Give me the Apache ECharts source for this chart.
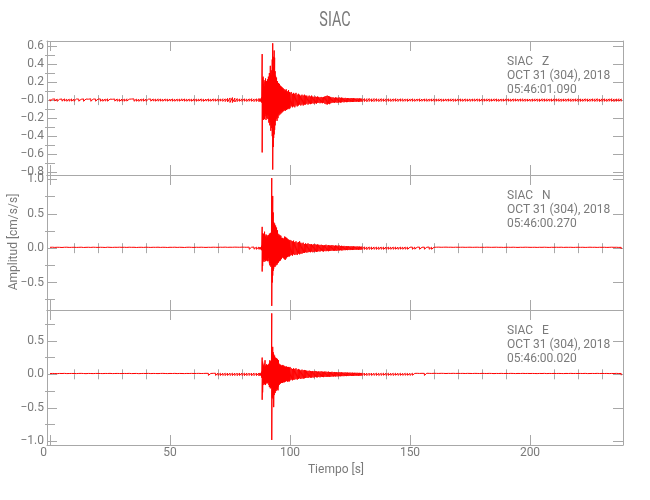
<!DOCTYPE html>
<html>
<head>
<meta charset="utf-8">
<script src="https://cdn.jsdelivr.net/npm/echarts@6/dist/echarts.min.js"></script>
<style>html,body{margin:0;padding:0;background:#fff;}#chart{width:650px;height:500px;}</style>
</head>
<body>
<div id="chart"></div>
<script>
// ---------- DATA ----------
const chartTitle = 'SIAC';
const xAxisTitle = 'Tiempo [s]';
const yAxisTitle = 'Amplitud [cm/s/s]';
const stationLabels = ['SIAC   Z', 'SIAC   N', 'SIAC   E'];
const dateLabel = 'OCT 31 (304), 2018';
const startTimes = ['05:46:01.090', '05:46:00.270', '05:46:00.020'];

const xRange = [-1.25, 238.75];
const xMajorTicks = [0, 50, 100, 150, 200];
const xMajorLabels = ['0', '50', '100', '150', '200'];
const xMinorTicks = [10, 20, 30, 40, 60, 70, 80, 90, 110, 120, 130, 140, 160, 170, 180, 190, 210, 220, 230];

const yRangeZ = [-0.83, 0.655];
const yRangeN = [-0.9, 1.065];
const yRangeE = [-1.055, 0.96];
const yMajorZ = [-0.8, -0.6, -0.4, -0.2, 0, 0.2, 0.4, 0.6];
const yLabelsZ = ['\u22120.8', '\u22120.6', '\u22120.4', '\u22120.2', '\u22120.0', '0.2', '0.4', '0.6'];
const yMinorZ = [-0.7, -0.5, -0.3, -0.1, 0.1, 0.3, 0.5];
const yMajorN = [-0.5, 0, 0.5, 1.0];
const yLabelsN = ['\u22120.5', '0.0', '0.5', '1.0'];
const yMinorN = [-0.75, -0.25, 0.25, 0.75];
const yMajorE = [-1.0, -0.5, 0, 0.5];
const yLabelsE = ['\u22121.0', '\u22120.5', '0.0', '0.5'];
const yMinorE = [-0.75, -0.25, 0.25, 0.75];

// time of each envelope sample [s]
const tiempo = [
0,1,2,3,4,5,6,7,8,9,
10,11,12,13,14,15,16,17,18,19,
20,21,22,23,24,25,26,27,28,29,
30,31,32,33,34,35,36,37,38,39,
40,41,42,43,44,45,46,47,48,49,
50,51,52,53,54,55,56,57,58,59,
60,61,62,63,64,65,66,67,68,69,
70,71,72,73,74,75,76,77,78,79,
80,81,82,83,84,85,86,87,87.5,88,
88.2,88.4,88.6,88.8,89,89.2,89.4,89.6,89.8,90,
90.2,90.4,90.6,90.8,91,91.2,91.4,91.6,91.8,92,
92.2,92.4,92.6,92.8,93,93.2,93.4,93.6,93.8,94,
94.2,94.4,94.6,94.8,95,95.2,95.4,95.6,95.8,96,
96.2,96.4,96.6,96.8,97,97.2,97.4,97.6,97.8,98,
98.2,98.4,98.6,98.8,99,99.2,99.4,99.6,99.8,100,
100.5,101,101.5,102,102.5,103,103.5,104,104.5,105,
105.5,106,106.5,107,107.5,108,108.5,109,109.5,110,
110.5,111,111.5,112,112.5,113,113.5,114,114.5,115,
115.5,116,116.5,117,117.5,118,118.5,119,119.5,120,
120.5,121,121.5,122,122.5,123,123.5,124,124.5,125,
125.5,126,126.5,127,127.5,128,128.5,129,129.5,130,
131,132,133,134,135,136,137,138,139,140,
141,142,143,144,145,146,147,148,149,150,
151,152,153,154,155,156,157,158,159,160,
161,162,163,164,165,166,167,168,169,170,
171,172,173,174,175,176,177,178,179,180,
181,182,183,184,185,186,187,188,189,190,
191,192,193,194,195,196,197,198,199,200,
201,202,203,204,205,206,207,208,209,210,
211,212,213,214,215,216,217,218,219,220,
221,222,223,224,225,226,227,228,229,230,
231,232,233,234,235,236,237,238];

// Z component: upper / lower envelope [cm/s/s]
const zMax = [
.012,.010,.013,.011,.009,.012,.014,.010,.011,.013,
.010,.012,.011,.009,.013,.012,.010,.014,.011,.012,
.011,.013,.010,.012,.014,.011,.009,.012,.013,.010,
.012,.011,.014,.010,.012,.013,.011,.009,.012,.014,
.011,.010,.012,.013,.011,.014,.012,.010,.013,.011,
.012,.013,.010,.012,.011,.014,.013,.011,.012,.010,
.013,.011,.012,.014,.010,.012,.013,.011,.014,.012,
.013,.012,.015,.014,.019,.024,.028,.022,.017,.014,
.013,.015,.012,.014,.016,.013,.015,.017,.016,.018,
.030,.51,.24,.26,.18,.22,.15,.20,.24,.17,
.21,.19,.23,.18,.26,.21,.30,.24,.38,.28,
.33,.27,.45,.63,.48,.36,.55,.47,.32,.27,
.22,.25,.19,.21,.17,.19,.15,.18,.14,.16,
.13,.15,.12,.14,.11,.13,.10,.12,.09,.11,
.10,.12,.09,.10,.08,.09,.11,.08,.09,.08,
.09,.07,.08,.07,.08,.06,.07,.06,.05,.06,
.05,.06,.05,.05,.04,.05,.04,.05,.04,.035,
.04,.035,.04,.035,.03,.035,.03,.035,.04,.045,
.05,.045,.04,.035,.03,.03,.025,.03,.028,.025,
.03,.025,.028,.025,.022,.025,.02,.023,.022,.02,
.023,.02,.021,.02,.018,.02,.017,.019,.018,.016,
.017,.016,.018,.015,.017,.016,.014,.016,.015,.014,
.015,.013,.014,.016,.013,.015,.014,.012,.014,.013,
.014,.012,.013,.015,.012,.014,.013,.012,.014,.013,
.012,.014,.013,.011,.013,.012,.014,.013,.012,.013,
.013,.012,.014,.011,.013,.012,.013,.014,.012,.013,
.012,.014,.013,.012,.014,.013,.011,.013,.012,.014,
.013,.012,.014,.013,.012,.013,.014,.012,.013,.011,
.012,.014,.013,.012,.015,.013,.014,.012,.013,.014,
.013,.015,.012,.014,.013,.015,.014,.013,.015,.014,
.014,.013,.015,.014,.013,.015,.014,.016,.013,.014,
.015,.013,.014,.016,.013,.014,.015,.013];
const zMin = [
-.011,-.012,-.010,-.013,-.011,-.012,-.010,-.013,-.012,-.011,
-.013,-.010,-.012,-.011,-.013,-.010,-.012,-.013,-.011,-.012,
-.010,-.012,-.013,-.011,-.012,-.010,-.013,-.011,-.012,-.014,
-.012,-.013,-.011,-.012,-.010,-.013,-.012,-.014,-.011,-.012,
-.013,-.011,-.012,-.010,-.013,-.012,-.011,-.013,-.010,-.012,
-.011,-.012,-.013,-.011,-.012,-.010,-.012,-.013,-.011,-.013,
-.012,-.013,-.011,-.012,-.014,-.011,-.012,-.013,-.011,-.012,
-.013,-.012,-.014,-.016,-.020,-.026,-.027,-.021,-.016,-.013,
-.014,-.012,-.015,-.013,-.014,-.016,-.015,-.016,-.017,-.018,
-.028,-.58,-.21,-.19,-.22,-.16,-.21,-.18,-.15,-.22,
-.17,-.20,-.16,-.21,-.17,-.25,-.22,-.28,-.24,-.34,
-.27,-.31,-.40,-.77,-.52,-.42,-.38,-.33,-.28,-.23,
-.21,-.19,-.23,-.18,-.20,-.15,-.17,-.14,-.16,-.13,
-.15,-.12,-.14,-.12,-.13,-.10,-.12,-.09,-.11,-.12,
-.10,-.09,-.11,-.09,-.10,-.08,-.09,-.10,-.08,-.09,
-.07,-.08,-.07,-.08,-.06,-.07,-.06,-.05,-.06,-.05,
-.06,-.05,-.05,-.04,-.05,-.04,-.045,-.04,-.035,-.04,
-.035,-.04,-.03,-.03,-.035,-.03,-.035,-.03,-.04,-.045,
-.05,-.04,-.045,-.035,-.03,-.028,-.03,-.025,-.028,-.03,
-.025,-.028,-.025,-.022,-.025,-.02,-.023,-.022,-.02,-.022,
-.02,-.021,-.02,-.018,-.02,-.017,-.019,-.018,-.016,-.018,
-.016,-.018,-.015,-.017,-.016,-.014,-.016,-.015,-.014,-.016,
-.013,-.015,-.014,-.013,-.015,-.012,-.014,-.013,-.015,-.012,
-.013,-.014,-.012,-.014,-.013,-.012,-.014,-.013,-.012,-.014,
-.013,-.012,-.014,-.012,-.011,-.013,-.012,-.014,-.013,-.012,
-.012,-.014,-.013,-.012,-.014,-.011,-.013,-.012,-.014,-.013,
-.013,-.012,-.014,-.013,-.011,-.013,-.014,-.012,-.013,-.012,
-.012,-.014,-.013,-.011,-.013,-.012,-.013,-.014,-.012,-.013,
-.014,-.012,-.013,-.015,-.012,-.014,-.013,-.012,-.014,-.013,
-.013,-.014,-.015,-.012,-.014,-.013,-.015,-.014,-.013,-.015,
-.015,-.014,-.013,-.015,-.014,-.013,-.015,-.014,-.016,-.014,
-.014,-.015,-.013,-.014,-.016,-.014,-.013,-.015];

// N component
const nMax = [
.012,.014,.011,.013,.012,.010,.013,.014,.011,.012,
.013,.011,.012,.014,.010,.012,.013,.011,.014,.012,
.011,.013,.012,.010,.014,.012,.011,.013,.012,.014,
.012,.013,.011,.014,.012,.013,.010,.012,.013,.011,
.014,.012,.011,.013,.012,.014,.011,.013,.012,.010,
.013,.012,.014,.011,.013,.012,.010,.013,.014,.012,
.011,.013,.012,.014,.012,.011,.013,.012,.014,.013,
.012,.014,.013,.015,.012,.014,.013,.015,.014,.013,
.015,.014,.013,.015,.014,.016,.015,.016,.015,.018,
.035,.31,.22,.17,.21,.15,.24,.18,.16,.20,
.14,.19,.17,.15,.19,.16,.21,.18,.22,.19,
.23,1.02,.45,.76,.52,.38,.33,.36,.29,.33,
.27,.30,.25,.26,.21,.18,.20,.17,.19,.16,
.18,.15,.14,.15,.13,.14,.12,.15,.17,.14,
.16,.13,.15,.14,.12,.13,.11,.12,.10,.12,
.11,.10,.11,.09,.10,.08,.09,.10,.08,.07,
.08,.06,.07,.06,.07,.06,.055,.06,.05,.06,
.055,.05,.055,.05,.045,.05,.045,.04,.045,.05,
.04,.045,.04,.04,.045,.04,.035,.04,.038,.035,
.04,.032,.035,.03,.033,.028,.03,.027,.03,.026,
.028,.025,.027,.025,.023,.026,.022,.024,.021,.023,
.020,.018,.019,.017,.018,.016,.017,.018,.016,.017,
.016,.015,.017,.016,.014,.016,.015,.017,.015,.014,
.015,.016,.014,.015,.013,.015,.014,.016,.014,.013,
.014,.015,.013,.014,.015,.013,.014,.012,.014,.013,
.013,.014,.012,.013,.014,.012,.013,.014,.012,.013,
.012,.014,.013,.012,.013,.014,.012,.013,.011,.013,
.013,.012,.014,.012,.011,.013,.012,.014,.013,.012,
.012,.013,.011,.013,.012,.014,.012,.011,.013,.012,
.013,.012,.014,.011,.013,.012,.013,.011,.012,.013,
.012,.013,.011,.012,.014,.012,.013,.011,.013,.012,
.013,.011,.012,.014,.012,.013,.011,.012];
const nMin = [
-.013,-.011,-.014,-.012,-.010,-.013,-.012,-.011,-.014,-.012,
-.011,-.013,-.012,-.010,-.014,-.012,-.011,-.013,-.012,-.014,
-.012,-.011,-.013,-.014,-.011,-.012,-.013,-.010,-.012,-.013,
-.013,-.012,-.014,-.011,-.013,-.012,-.011,-.014,-.012,-.013,
-.011,-.013,-.012,-.014,-.010,-.012,-.013,-.011,-.014,-.012,
-.012,-.014,-.011,-.013,-.012,-.013,-.014,-.011,-.012,-.013,
-.013,-.012,-.014,-.011,-.013,-.014,-.012,-.013,-.011,-.014,
-.013,-.012,-.014,-.013,-.015,-.012,-.014,-.013,-.015,-.014,
-.013,-.015,-.014,-.016,-.014,-.015,-.016,-.015,-.017,-.019,
-.03,-.34,-.26,-.19,-.15,-.20,-.17,-.14,-.19,-.16,
-.18,-.15,-.19,-.17,-.14,-.19,-.22,-.25,-.21,-.27,
-.24,-.84,-.50,-.40,-.33,-.30,-.27,-.24,-.27,-.22,
-.25,-.21,-.24,-.22,-.19,-.21,-.17,-.19,-.16,-.18,
-.14,-.16,-.13,-.12,-.14,-.13,-.15,-.13,-.16,-.17,
-.14,-.15,-.13,-.12,-.13,-.11,-.12,-.10,-.12,-.11,
-.10,-.11,-.09,-.10,-.09,-.10,-.08,-.09,-.08,-.08,
-.07,-.07,-.06,-.065,-.06,-.055,-.06,-.05,-.06,-.055,
-.05,-.055,-.05,-.045,-.05,-.04,-.045,-.05,-.04,-.045,
-.04,-.045,-.04,-.04,-.035,-.04,-.038,-.035,-.04,-.033,
-.035,-.03,-.033,-.032,-.028,-.03,-.027,-.029,-.026,-.028,
-.025,-.027,-.024,-.023,-.025,-.022,-.024,-.021,-.023,-.02,
-.019,-.021,-.018,-.019,-.017,-.018,-.019,-.016,-.018,-.017,
-.015,-.017,-.016,-.015,-.017,-.014,-.016,-.015,-.016,-.014,
-.016,-.014,-.015,-.016,-.014,-.015,-.013,-.015,-.016,-.014,
-.015,-.013,-.014,-.015,-.013,-.014,-.015,-.012,-.014,-.013,
-.014,-.012,-.013,-.014,-.013,-.012,-.014,-.013,-.012,-.014,
-.013,-.012,-.014,-.013,-.011,-.013,-.012,-.014,-.013,-.012,
-.012,-.014,-.013,-.011,-.013,-.012,-.013,-.012,-.014,-.011,
-.013,-.012,-.013,-.011,-.012,-.013,-.012,-.014,-.012,-.013,
-.012,-.013,-.011,-.013,-.012,-.014,-.011,-.013,-.012,-.011,
-.013,-.012,-.013,-.012,-.011,-.013,-.012,-.014,-.012,-.013,
-.012,-.013,-.011,-.012,-.013,-.012,-.014,-.012];

// E component
const eMax = [
.011,.013,.012,.010,.013,.012,.014,.011,.012,.013,
.012,.011,.013,.014,.012,.010,.013,.012,.011,.013,
.013,.012,.011,.013,.012,.014,.011,.012,.013,.012,
.011,.013,.012,.014,.011,.012,.013,.010,.012,.013,
.012,.014,.011,.013,.012,.011,.013,.014,.012,.011,
.013,.012,.014,.011,.013,.012,.011,.013,.012,.014,
.012,.013,.014,.012,.013,.015,.014,.013,.015,.016,
.017,.016,.018,.017,.019,.018,.017,.019,.018,.020,
.019,.017,.020,.018,.019,.020,.018,.019,.021,.022,
.04,.25,.19,.14,.12,.16,.11,.21,.13,.12,
.15,.11,.14,.12,.15,.13,.17,.21,.18,.20,
.16,.91,.30,.41,.33,.30,.26,.28,.24,.25,
.22,.24,.20,.23,.19,.21,.16,.14,.15,.13,
.14,.12,.13,.12,.14,.11,.13,.10,.12,.11,
.10,.12,.11,.10,.11,.09,.11,.10,.09,.11,
.09,.08,.09,.08,.09,.07,.08,.07,.06,.07,
.06,.065,.06,.055,.05,.055,.05,.045,.05,.045,
.05,.045,.04,.045,.04,.045,.04,.038,.042,.04,
.036,.04,.035,.035,.038,.032,.035,.03,.033,.03,
.032,.028,.03,.028,.026,.029,.025,.027,.024,.026,
.023,.025,.022,.024,.022,.023,.021,.022,.02,.021,
.019,.018,.017,.019,.016,.018,.017,.016,.018,.016,
.017,.015,.016,.017,.015,.016,.014,.016,.015,.014,
.016,.014,.015,.013,.015,.014,.016,.014,.013,.015,
.014,.013,.015,.014,.012,.014,.013,.015,.013,.014,
.013,.014,.012,.014,.013,.012,.014,.013,.012,.014,
.013,.012,.014,.013,.011,.013,.012,.014,.012,.013,
.012,.014,.013,.011,.013,.012,.014,.012,.013,.012,
.013,.012,.011,.013,.012,.014,.011,.013,.012,.013,
.012,.013,.012,.011,.013,.012,.014,.012,.013,.012,
.013,.012,.014,.011,.012,.013,.012,.014,.012,.013,
.012,.013,.011,.013,.012,.014,.012,.013];
const eMin = [
-.012,-.010,-.013,-.012,-.011,-.014,-.012,-.013,-.011,-.012,
-.013,-.012,-.011,-.013,-.014,-.012,-.010,-.013,-.012,-.011,
-.011,-.013,-.012,-.014,-.011,-.012,-.013,-.012,-.014,-.011,
-.013,-.012,-.011,-.013,-.012,-.014,-.011,-.013,-.012,-.010,
-.012,-.011,-.013,-.012,-.014,-.012,-.011,-.013,-.012,-.014,
-.011,-.013,-.012,-.014,-.012,-.011,-.013,-.012,-.014,-.013,
-.013,-.014,-.012,-.015,-.013,-.014,-.016,-.015,-.014,-.017,
-.016,-.018,-.017,-.019,-.018,-.017,-.019,-.018,-.020,-.018,
-.018,-.020,-.019,-.017,-.021,-.019,-.020,-.021,-.020,-.022,
-.05,-.38,-.27,-.16,-.13,-.11,-.15,-.12,-.16,-.13,
-.11,-.14,-.12,-.13,-.11,-.16,-.19,-.17,-.21,-.18,
-.20,-.98,-.35,-.30,-.37,-.49,-.31,-.26,-.28,-.24,
-.25,-.22,-.23,-.21,-.24,-.18,-.16,-.15,-.13,-.14,
-.12,-.13,-.11,-.13,-.11,-.12,-.10,-.12,-.11,-.10,
-.11,-.09,-.10,-.09,-.11,-.10,-.09,-.11,-.10,-.09,
-.08,-.09,-.08,-.08,-.07,-.08,-.07,-.06,-.07,-.06,
-.065,-.06,-.055,-.05,-.055,-.045,-.05,-.05,-.045,-.05,
-.04,-.045,-.045,-.04,-.045,-.038,-.04,-.042,-.036,-.04,
-.038,-.035,-.038,-.036,-.032,-.035,-.03,-.033,-.03,-.032,
-.028,-.03,-.027,-.027,-.028,-.025,-.027,-.024,-.026,-.023,
-.025,-.022,-.024,-.022,-.023,-.021,-.022,-.02,-.021,-.019,
-.018,-.019,-.017,-.018,-.016,-.017,-.018,-.016,-.015,-.017,
-.016,-.015,-.017,-.014,-.016,-.015,-.016,-.014,-.015,-.016,
-.014,-.015,-.013,-.015,-.014,-.016,-.013,-.014,-.015,-.013,
-.013,-.015,-.014,-.013,-.014,-.012,-.014,-.013,-.015,-.013,
-.014,-.012,-.013,-.014,-.012,-.013,-.014,-.012,-.013,-.014,
-.012,-.014,-.013,-.012,-.013,-.011,-.013,-.012,-.014,-.012,
-.013,-.012,-.014,-.013,-.012,-.013,-.011,-.013,-.012,-.014,
-.012,-.013,-.012,-.011,-.013,-.012,-.013,-.012,-.011,-.013,
-.013,-.012,-.011,-.013,-.012,-.013,-.012,-.014,-.012,-.011,
-.012,-.013,-.012,-.014,-.013,-.012,-.011,-.013,-.012,-.013,
-.013,-.012,-.014,-.012,-.011,-.013,-.012,-.014];

// ---------- CHART ----------
const FONT = 'Roboto, "DejaVu Sans", sans-serif';
const AXIS_COLOR = '#a8a8a8';
const TEXT_COLOR = '#7a7a7a';
const TRACE_COLOR = '#ff0000';

const panels = [
  { top: 41, height: 134, range: yRangeZ, major: yMajorZ, labels: yLabelsZ, minor: yMinorZ, hi: zMax, lo: zMin },
  { top: 175, height: 135, range: yRangeN, major: yMajorN, labels: yLabelsN, minor: yMinorN, hi: nMax, lo: nMin },
  { top: 310, height: 135, range: yRangeE, major: yMajorE, labels: yLabelsE, minor: yMinorE, hi: eMax, lo: eMin }
];
const GRID_LEFT = 47, GRID_WIDTH = 576;

function envelopeTrace(t, hi, lo) {
  const n = Math.min(t.length, hi.length, lo.length);
  const out = [];
  for (let i = 0; i < n; i++) {
    out.push([t[i], hi[i]]);
    out.push([t[i], lo[i]]);
  }
  return out;
}

const grid = [], xAxis = [], yAxis = [], series = [], graphic = [];
const lineStyle = { color: AXIS_COLOR, width: 1 };
const noLine = { show: false };

panels.forEach((p, i) => {
  grid.push({ left: GRID_LEFT, width: GRID_WIDTH, top: p.top, height: p.height });
  const xBase = { gridIndex: i, type: 'value', min: xRange[0], max: xRange[1], splitLine: { show: false } };
  xAxis.push(Object.assign({}, xBase, {
    position: 'bottom',
    axisLine: { show: true, onZero: false, lineStyle },
    axisTick: { show: true, inside: true, length: 10, customValues: xMajorTicks, lineStyle },
    axisLabel: {
      show: i === 2, customValues: xMajorTicks, color: TEXT_COLOR, fontSize: 12, fontFamily: FONT, margin: 2,
      formatter: v => {
        const k = xMajorTicks.indexOf(v);
        if (k < 0) return '';
        return k === 0 ? '{z|' + xMajorLabels[k] + '}' : xMajorLabels[k];
      },
      rich: { z: { color: TEXT_COLOR, fontSize: 12, fontFamily: FONT, padding: [0, 13, 0, 0] } }
    }
  }));
  xAxis.push(Object.assign({}, xBase, {
    position: 'bottom', axisLine: noLine,
    axisTick: { show: true, inside: true, length: 5, customValues: xMinorTicks, lineStyle },
    axisLabel: { show: false }
  }));
  xAxis.push(Object.assign({}, xBase, {
    position: 'top', axisLine: { show: true, onZero: false, lineStyle },
    axisTick: { show: true, inside: true, length: 10, customValues: xMajorTicks, lineStyle },
    axisLabel: { show: false }
  }));
  xAxis.push(Object.assign({}, xBase, {
    position: 'top', axisLine: noLine,
    axisTick: { show: true, inside: true, length: 5, customValues: xMinorTicks, lineStyle },
    axisLabel: { show: false }
  }));

  const yBase = { gridIndex: i, type: 'value', min: p.range[0], max: p.range[1], splitLine: { show: false } };
  yAxis.push(Object.assign({}, yBase, {
    position: 'left', axisLine: { show: true, onZero: false, lineStyle },
    axisTick: { show: true, inside: true, length: 10, customValues: p.major, lineStyle },
    axisLabel: {
      show: true, customValues: p.major, color: TEXT_COLOR, fontSize: 12, fontFamily: FONT, margin: 3,
      formatter: v => { const k = p.major.indexOf(v); return k >= 0 ? p.labels[k] : ''; }
    }
  }));
  yAxis.push(Object.assign({}, yBase, {
    position: 'left', axisLine: noLine,
    axisTick: { show: true, inside: true, length: 5, customValues: p.minor, lineStyle },
    axisLabel: { show: false }
  }));
  yAxis.push(Object.assign({}, yBase, {
    position: 'right', axisLine: { show: true, onZero: false, lineStyle },
    axisTick: { show: true, inside: true, length: 10, customValues: p.major, lineStyle },
    axisLabel: { show: false }
  }));
  yAxis.push(Object.assign({}, yBase, {
    position: 'right', axisLine: noLine,
    axisTick: { show: true, inside: true, length: 5, customValues: p.minor, lineStyle },
    axisLabel: { show: false }
  }));

  series.push({
    type: 'line', xAxisIndex: 4 * i, yAxisIndex: 4 * i,
    data: envelopeTrace(tiempo, p.hi, p.lo),
    showSymbol: false, symbol: 'none', silent: true, animation: false,
    lineStyle: { color: TRACE_COLOR, width: 1 }
  });

  const lines = [stationLabels[i], dateLabel, startTimes[i]];
  lines.forEach((txt, k) => {
    graphic.push({
      type: 'text', x: 507, y: p.top + 21 + 14 * k, silent: true,
      style: { text: txt, fill: TEXT_COLOR, fontSize: 12, fontFamily: FONT, align: 'left', verticalAlign: 'middle' }
    });
  });
});

graphic.push({
  type: 'text', x: 335, y: 21, scaleX: 0.72, silent: true,
  style: { text: chartTitle, fill: TEXT_COLOR, fontSize: 20, fontFamily: FONT, align: 'center', verticalAlign: 'middle' }
});
graphic.push({
  type: 'text', x: 336, y: 470, silent: true,
  style: { text: xAxisTitle, fill: TEXT_COLOR, fontSize: 12, fontFamily: FONT, align: 'center', verticalAlign: 'middle' }
});
graphic.push({
  type: 'text', x: 14, y: 242, rotation: Math.PI / 2, silent: true,
  style: { text: yAxisTitle, fill: TEXT_COLOR, fontSize: 12, fontFamily: FONT, align: 'center', verticalAlign: 'middle' }
});

const chart = echarts.init(document.getElementById('chart'), null, { renderer: 'canvas' });
chart.setOption({
  backgroundColor: '#ffffff',
  animation: false,
  grid, xAxis, yAxis, series, graphic
});
</script>
</body>
</html>
